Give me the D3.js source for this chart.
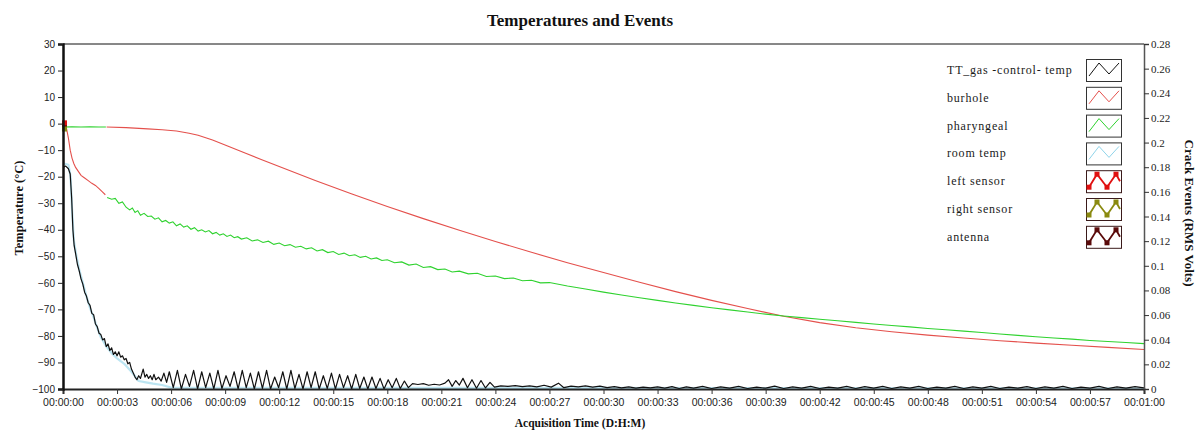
<!DOCTYPE html>
<html>
<head>
<meta charset="utf-8">
<script src="https://cdn.jsdelivr.net/npm/d3@7"></script>
<style>
  html, body { margin: 0; padding: 0; background: #fff; }
  svg { display: block; }
</style>
</head>
<body>
<svg id="chart" width="1197" height="430"></svg>
<script>
// ---- data (time in seconds, temperature in °C, events in RMS volts) ----
const chartTitle = "Temperatures and Events";
const seriesNames = ["TT_gas -control- temp", "burhole", "pharyngeal", "room temp", "left sensor", "right sensor", "antenna"];
const seriesColors = ["#111111", "#e4504c", "#2fd22f", "#8fd4ea", "#e01010", "#8a8a10", "#5a0a0a"];
const timeTicks = [0, 3, 6, 9, 12, 15, 18, 21, 24, 27, 30, 33, 36, 39, 42, 45, 48, 51, 54, 57, 60];
const tempTicks = [30, 20, 10, 0, -10, -20, -30, -40, -50, -60, -70, -80, -90, -100];
const voltTicks = [0, 0.02, 0.04, 0.06, 0.08, 0.1, 0.12, 0.14, 0.16, 0.18, 0.2, 0.22, 0.24, 0.26, 0.28];

// TT_gas control temperature
const ttGas = [
  [0,-16.5],[0.15,-16],[0.3,-17],[0.4,-19],[0.48,-28],[0.55,-40],[0.62,-46],[0.7,-49],[0.8,-53],[0.9,-55.5],
  [1.0,-58.5],[1.1,-60.5],[1.2,-63.5],[1.3,-65],[1.4,-67.5],[1.5,-68.5],[1.6,-71.5],[1.7,-72],[1.8,-75.5],[1.9,-76.5],
  [2.0,-79],[2.1,-79.5],[2.2,-81.5],[2.3,-81],[2.4,-84],[2.5,-83],[2.6,-85.5],[2.7,-84.5],[2.8,-87],[2.9,-86],
  [3.0,-87.5],[3.1,-86],[3.2,-88],[3.3,-87.5],[3.4,-89],[3.5,-88.5],[3.6,-90.5],[3.7,-90],[3.8,-92.5],[3.9,-94],
  [4.0,-95.5],[4.1,-96.5],[4.2,-95],[4.3,-96],[4.45,-92.5],[4.55,-95.5],[4.65,-94.5],[4.75,-96],[4.85,-95],[4.95,-96.5],
  [5.05,-94.5],[5.15,-96.5],[5.3,-95.5],[5.45,-97],[5.6,-94],[5.75,-97.5],
  [5.9,-93.5],[6.12,-99.5],[6.35,-93],[6.57,-100],[6.8,-94.5],[7.02,-99],[7.25,-93],[7.47,-100],[7.7,-93.5],[7.92,-99.5],
  [8.15,-94],[8.37,-100],[8.6,-93],[8.82,-99.8],[9.05,-95],[9.27,-99],[9.5,-93.5],[9.72,-100],[9.95,-93],[10.17,-99.5],
  [10.4,-94],[10.62,-100],[10.85,-93.5],[11.07,-99.8],[11.3,-93],[11.52,-100],[11.75,-95.5],[11.97,-99.5],[12.2,-93.5],[12.42,-100],
  [12.65,-93],[12.87,-99.8],[13.1,-94.5],[13.32,-100],[13.55,-93.5],[13.77,-99.5],[14.0,-93.5],[14.22,-100],[14.45,-95],[14.67,-99.8],
  [14.9,-94],[15.12,-100],[15.35,-94.5],[15.57,-99.5],[15.8,-95],[16.02,-100],[16.25,-94.5],[16.47,-99.8],[16.7,-95.5],[16.92,-100],
  [17.15,-95.5],[17.37,-99.8],[17.6,-96],[17.82,-100],[18.05,-96.5],[18.27,-99.5],[18.5,-96],[18.72,-99.8],[18.95,-97],[19.17,-99.5],
  [19.4,-98],[19.7,-98.3],[20.0,-98],[20.3,-98.6],[20.6,-98.2],[20.9,-98.5],[21.2,-97.8],[21.4,-96.5],[21.6,-99],[21.8,-96.8],
  [22.0,-98.5],[22.2,-96],[22.45,-99.5],[22.7,-96.5],[22.95,-99.7],[23.2,-96.8],[23.45,-99.6],[23.7,-97.5],[23.95,-99.3],[24.3,-98.8],
  [24.7,-99],[25.1,-98.7],[25.5,-99.1],[25.9,-98.8],[26.3,-99.2],[26.7,-98.6],[27.1,-99.3],[27.5,-97.8],[27.8,-99.5],[28.2,-98.9],
  [28.6,-99.2],[29.0,-98.8],[29.4,-99.3],[29.8,-98.9],[30.2,-99.5],[30.6,-99.1],[31.0,-99.6],[31.4,-99.2],[31.8,-99.7],[32.2,-99.3],
  [32.6,-99.6],[33.0,-99.2],[33.4,-99.7],[33.8,-99.1],[34.2,-99.8],[34.6,-99.2],[35.0,-99.7],[35.5,-99.0],[36.0,-99.8],[36.5,-99.2],
  [37.0,-99.7],[37.5,-99.0],[38.0,-99.8],[38.5,-99.3],[39.0,-99.7],[39.5,-98.9],[40.0,-99.8],[40.5,-99.2],[41.0,-99.7],[41.5,-99.0],
  [42.0,-99.8],[42.5,-99.3],[43.0,-99.7],[43.5,-99.0],[44.0,-99.8],[44.5,-99.1],[45.0,-99.7],[45.5,-99.0],[46.0,-99.8],[46.5,-99.2],
  [47.0,-99.7],[47.5,-99.0],[48.0,-99.8],[48.5,-99.3],[49.0,-99.7],[49.5,-99.0],[50.0,-99.8],[50.5,-99.2],[51.0,-99.7],[51.5,-99.0],
  [52.0,-99.8],[52.5,-99.3],[53.0,-99.7],[53.5,-99.1],[54.0,-99.8],[54.5,-99.2],[55.0,-99.7],[55.5,-99.0],[56.0,-99.8],[56.5,-99.3],
  [57.0,-99.7],[57.5,-99.0],[58.0,-99.8],[58.5,-99.2],[59.0,-99.7],[59.5,-99.1],[60.0,-99.6]
];

// burhole probe (null marks a gap in the record)
const burhole = [
  [0,0.5],[0.1,-0.5],[0.2,-2],[0.3,-5.5],[0.4,-10],[0.5,-13],[0.6,-15],[0.7,-16.5],[0.85,-18],[1.0,-19.5],
  [1.2,-20.5],[1.4,-21.5],[1.6,-22.5],[1.8,-23.3],[2.0,-24.5],[2.2,-25.8],[2.35,-26.8],[2.4,null],
  [2.42,-1.3],[3.5,-1.5],[4.7,-2.0],[5.5,-2.3],[6.3,-2.8],[7.0,-3.6],[7.5,-4.4],[8.3,-6.2],[9.1,-8.3],[10.0,-10.8],
  [11.0,-13.5],[12.0,-16.2],[14.0,-21.4],[16.0,-26.4],[18.0,-31.2],[20.0,-35.8],[22.0,-40.2],[24.0,-44.4],[26.0,-48.5],[28.0,-52.4],
  [30.0,-56.1],[32.0,-59.8],[34.0,-63.3],[36.0,-66.6],[38.0,-69.7],[40.0,-72.6],[42.0,-75.0],[44.0,-76.9],[46.0,-78.4],[48.0,-79.7],
  [50.0,-80.8],[52.0,-81.8],[54.0,-82.7],[56.0,-83.5],[58.0,-84.3],[60.0,-85.1]
];

// pharyngeal probe (null marks a gap in the record)
const pharyngeal = [
  [0,-1.3],[0.5,-1.2],[1.0,-1.3],[1.5,-1.2],[2.0,-1.3],[2.38,-1.3],[2.4,null],
  [2.45,-27.8],[2.7,-28.5],[2.9,-28.2],[3.1,-30],[3.3,-29.5],[3.5,-31.5],[3.7,-32.5],[3.85,-31.8],[4.0,-33.5],[4.15,-32.8],
  [4.3,-34.5],[4.5,-33.8],[4.7,-35],[4.9,-34.8],[5.1,-36],[5.3,-35.5],[5.5,-37],[5.7,-36.5],[5.9,-37.5],[6.1,-37],
  [6.3,-38.5],[6.5,-37.8],[6.7,-39],[6.9,-38.5],[7.1,-39.8],[7.3,-39.2],[7.5,-40.5],[7.7,-40],[7.9,-40.8],[8.1,-40.3],
  [8.3,-41.5],[8.5,-41],[8.7,-42],[8.9,-41.5],[9.1,-42.5],[9.3,-42],[9.5,-43],[9.7,-42.6],[9.9,-43.5],[10.2,-43],
  [10.5,-44.2],[10.8,-43.8],[11.1,-44.8],[11.4,-44.3],[11.7,-45.5],[12.0,-45],[12.3,-46],[12.6,-45.6],[12.9,-46.6],[13.2,-46.2],
  [13.5,-47.2],[13.8,-46.8],[14.1,-48],[14.4,-47.5],[14.7,-48.6],[15.0,-48.2],[15.3,-49.3],[15.6,-48.8],[15.9,-49.8],[16.2,-49.4],
  [16.5,-50.4],[16.8,-50],[17.1,-51],[17.4,-50.6],[17.7,-51.6],[18.0,-51.3],[18.4,-52.4],[18.8,-52.1],[19.2,-53.3],[19.6,-52.9],
  [20.0,-54.2],[20.4,-53.9],[20.8,-55.0],[21.2,-54.8],[21.6,-55.9],[22.0,-55.6],[22.5,-56.6],[23.0,-56.4],[23.5,-57.6],[24.0,-57.4],
  [24.5,-58.4],[25.0,-58.2],[25.5,-59.2],[26.0,-59.0],[26.5,-60.0],[27.0,-59.9],[28.0,-61.2],[29.0,-62.3],[30.0,-63.5],[31.0,-64.6],
  [32.0,-65.6],[33.0,-66.6],[34.0,-67.6],[35.0,-68.5],[36.0,-69.4],[37.0,-70.2],[38.0,-71.0],[39.0,-71.8],[40.0,-72.5],[41.0,-73.1],
  [42.0,-73.7],[43.0,-74.3],[44.0,-74.9],[45.0,-75.5],[46.0,-76.1],[47.0,-76.6],[48.0,-77.2],[49.0,-77.7],[50.0,-78.2],[51.0,-78.7],
  [52.0,-79.3],[53.0,-79.8],[54.0,-80.3],[55.0,-80.8],[56.0,-81.2],[57.0,-81.7],[58.0,-82.1],[59.0,-82.5],[60.0,-82.9]
];

// room temperature
const roomTemp = [
  [0,-15],[0.3,-15.5],[0.42,-20],[0.5,-32],[0.6,-44],[0.75,-50],[0.9,-55],[1.1,-60],[1.3,-65],[1.5,-69.5],
  [1.7,-73],[1.9,-77],[2.1,-80.5],[2.4,-84],[2.7,-86.5],[3.0,-88.5],[3.4,-90.5],[3.8,-93.5],[4.2,-97],[4.6,-97.5],
  [5.0,-98],[5.5,-98.5],[6.0,-99.5],[60.0,-99.8]
];

// crack event channels (RMS volts)
const leftSensor = [[0, 0.216]];
const rightSensor = [[0, 0.211]];
const antenna = [[0, 0.213]];

// ---- layout ----
const W = 1197, H = 430;
const plot = { left: 63, right: 1144, top: 44, bottom: 389 };

const svg = d3.select("#chart");

const x = d3.scaleLinear().domain([0, 60]).range([plot.left, plot.right]);
const yT = d3.scaleLinear().domain([-100, 30]).range([plot.bottom, plot.top]);
const yV = d3.scaleLinear().domain([0, 0.28]).range([plot.bottom, plot.top]);

const serif = "'Liberation Serif', 'Times New Roman', serif";
const sans = "'Liberation Sans', Arial, sans-serif";

svg.append("defs").append("clipPath").attr("id", "plotClip")
  .append("rect")
  .attr("x", plot.left).attr("y", plot.top - 1)
  .attr("width", plot.right - plot.left).attr("height", plot.bottom - plot.top + 1);

// title
svg.append("text")
  .attr("x", 580).attr("y", 26)
  .attr("text-anchor", "middle")
  .attr("font-family", serif).attr("font-weight", "bold").attr("font-size", 17)
  .attr("fill", "#111")
  .text(chartTitle);

// ---- series ----
const lineT = d3.line()
  .defined(d => d[1] !== null)
  .x(d => x(d[0])).y(d => yT(d[1]));

const gLines = svg.append("g").attr("clip-path", "url(#plotClip)");

gLines.append("path").datum(roomTemp)
  .attr("fill", "none").attr("stroke", seriesColors[3]).attr("stroke-width", 2.2)
  .attr("stroke-opacity", 0.6).attr("stroke-linejoin", "round")
  .attr("d", lineT);

gLines.append("path").datum(burhole)
  .attr("fill", "none").attr("stroke", seriesColors[1]).attr("stroke-width", 1.1)
  .attr("d", lineT);

gLines.append("path").datum(pharyngeal)
  .attr("fill", "none").attr("stroke", seriesColors[2]).attr("stroke-width", 1.1)
  .attr("d", lineT);

gLines.append("path").datum(ttGas)
  .attr("fill", "none").attr("stroke", seriesColors[0]).attr("stroke-width", 1.2)
  .attr("stroke-linejoin", "round")
  .attr("d", lineT);

// crack event markers
const sensorSets = [[antenna, seriesColors[6]], [rightSensor, seriesColors[5]], [leftSensor, seriesColors[4]]];
sensorSets.forEach(([data, color]) => {
  svg.append("g").selectAll("rect").data(data).join("rect")
    .attr("x", d => x(d[0]) - 1).attr("y", d => yV(d[1]) - 2.5)
    .attr("width", 5).attr("height", 5)
    .attr("fill", color);
});

// ---- axes ----
// plot frame top
svg.append("line")
  .attr("x1", plot.left).attr("x2", plot.right)
  .attr("y1", plot.top).attr("y2", plot.top)
  .attr("stroke", "#111").attr("stroke-width", 1);

const fmtTime = s => {
  const m = Math.floor(s / 60), sec = s % 60;
  return "00:" + String(m).padStart(2, "0") + ":" + String(sec).padStart(2, "0");
};

const xAxis = svg.append("g")
  .attr("transform", `translate(0,${plot.bottom})`)
  .call(d3.axisBottom(x).tickValues(timeTicks).tickFormat(fmtTime).tickSize(5).tickPadding(5));
xAxis.select(".domain").attr("stroke", "#222").attr("stroke-width", 2);
xAxis.selectAll(".tick line").attr("stroke", "#333");
xAxis.selectAll("text").attr("font-family", sans).attr("font-size", 10.5).attr("fill", "#222");

const yAxisL = svg.append("g")
  .attr("transform", `translate(${plot.left},0)`)
  .call(d3.axisLeft(yT).tickValues(tempTicks).tickFormat(d3.format("d")).tickSize(5).tickPadding(3));
yAxisL.select(".domain").attr("stroke", "#111").attr("stroke-width", 2.5);
yAxisL.selectAll(".tick line").attr("stroke", "#222");
yAxisL.selectAll("text").attr("font-family", sans).attr("font-size", 10).attr("fill", "#222");

const yAxisR = svg.append("g")
  .attr("transform", `translate(${plot.right},0)`)
  .call(d3.axisRight(yV).tickValues(voltTicks).tickFormat(d => String(+d.toFixed(2))).tickSize(5).tickPadding(2));
yAxisR.select(".domain").attr("stroke", "#555").attr("stroke-width", 1.5);
yAxisR.selectAll(".tick line").attr("stroke", "#333");
yAxisR.selectAll("text").attr("font-family", serif).attr("font-size", 11).attr("fill", "#222");

// axis titles
svg.append("text")
  .attr("transform", `translate(23,208) rotate(-90)`)
  .attr("text-anchor", "middle")
  .attr("font-family", serif).attr("font-weight", "bold").attr("font-size", 12.5)
  .attr("fill", "#111")
  .text("Temperature (°C)");

svg.append("text")
  .attr("transform", `translate(1185,213) rotate(90)`)
  .attr("text-anchor", "middle")
  .attr("font-family", serif).attr("font-weight", "bold").attr("font-size", 13)
  .attr("fill", "#111")
  .text("Crack Events (RMS Volts)");

svg.append("text")
  .attr("x", 580).attr("y", 427)
  .attr("text-anchor", "middle")
  .attr("font-family", serif).attr("font-weight", "bold").attr("font-size", 11.5)
  .attr("fill", "#111")
  .text("Acquisition Time (D:H:M)");

// ---- legend ----
const legend = svg.append("g").attr("transform", "translate(947,59)");
const rowH = 27.8;
const zigLine = [[3, 17], [13, 4], [23, 15], [33, 4]];
const zigMark = [[3, 17], [11, 4], [21, 17], [30, 4], [34, 11]];

seriesNames.forEach((name, i) => {
  const g = legend.append("g").attr("transform", `translate(0,${i * rowH})`);
  g.append("text")
    .attr("x", 0).attr("y", 15)
    .attr("font-family", serif).attr("font-size", 12).attr("letter-spacing", 0.8)
    .attr("fill", "#1a1a1a")
    .text(name);
  const box = g.append("g").attr("transform", "translate(139,0)");
  box.append("rect")
    .attr("x", 0.5).attr("y", 0.5).attr("width", 35).attr("height", 22)
    .attr("fill", "#fff").attr("stroke", i >= 4 ? "#3a1a1a" : "#333").attr("stroke-width", 1);
  if (i < 4) {
    box.append("path")
      .attr("d", d3.line()(zigLine))
      .attr("fill", "none").attr("stroke", seriesColors[i]).attr("stroke-width", 1);
  } else {
    box.append("path")
      .attr("d", d3.line()(zigMark))
      .attr("fill", "none").attr("stroke", seriesColors[i]).attr("stroke-width", 1.8);
    box.selectAll("rect.m").data(zigMark.slice(0, 4)).join("rect")
      .attr("class", "m")
      .attr("x", d => d[0] - 2.5).attr("y", d => d[1] - 2.5)
      .attr("width", 5).attr("height", 5)
      .attr("fill", seriesColors[i]);
  }
});
</script>
</body>
</html>
